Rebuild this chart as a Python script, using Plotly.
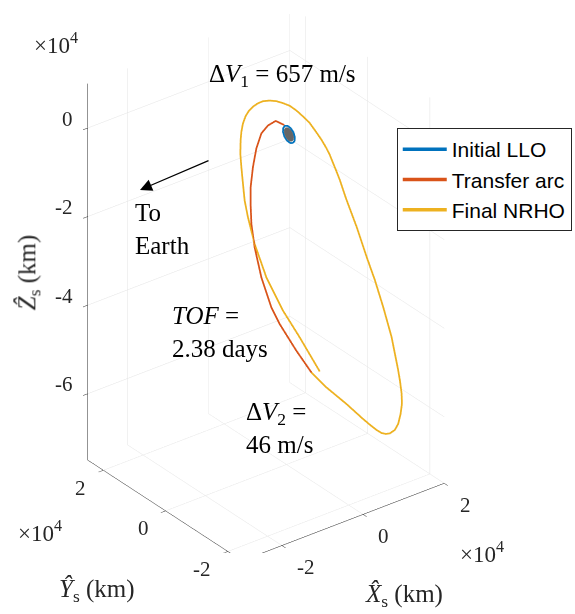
import plotly.graph_objects as go

# Trajectory samples in the selenocentric frame, units of 10^4 km
llo_x = [0.108, 0.137, 0.140, 0.117, 0.073, 0.020, -0.027, -0.056, -0.059, -0.036, 0.008, 0.061, 0.108]
llo_y = [-0.065, -0.082, -0.084, -0.070, -0.044, -0.012, 0.016, 0.034, 0.035, 0.021, -0.005, -0.037, -0.065]
llo_z = [-0.250, -0.202, -0.114, -0.008, 0.086, 0.144, 0.149, 0.101, 0.013, -0.093, -0.186, -0.245, -0.250]

# Outline of the Moon disc as seen inside the LLO
moon_x = [0.094, 0.118, 0.120, 0.102, 0.066, 0.024, -0.014, -0.037, -0.039, -0.021, 0.014, 0.057, 0.094]
moon_y = [-0.057, -0.070, -0.072, -0.061, -0.040, -0.014, 0.008, 0.022, 0.023, 0.012, -0.009, -0.034, -0.057]
moon_z = [-0.210, -0.172, -0.101, -0.016, 0.059, 0.105, 0.109, 0.071, 0.000, -0.084, -0.159, -0.206, -0.210]

arc_x = [-0.039, -0.183, -0.313, -0.424, -0.509, -0.566, -0.605, -0.605, -0.593, -0.538, -0.424,
         -0.255, -0.115, 0.167, 0.421]
arc_y = [0.023, 0.110, 0.188, 0.255, 0.305, 0.340, 0.363, 0.363, 0.356, 0.323, 0.255,
         0.153, 0.069, -0.100, -0.253]
arc_z = [0.170, 0.271, 0.178, 0.009, -0.325, -0.738, -1.189, -1.604, -2.020, -2.555, -3.243,
         -3.935, -4.321, -4.946, -5.456]

nrho_x = [0.421, 0.675, 1.013, 1.293, 1.407, 1.520, 1.604, 1.677, 1.745, 1.829, 1.885, 1.926,
          1.948, 1.943, 1.914, 1.885, 1.773, 1.631, 1.491, 1.351, 1.182, 1.013, 0.955, 0.899,
          0.844, 0.786, 0.730, 0.663, 0.590, 0.494, 0.392, 0.279, 0.167, 0.054, -0.059, -0.171,
          -0.284, -0.397, -0.482, -0.566, -0.634, -0.690, -0.735, -0.762, -0.774, -0.779, -0.762,
          -0.746, -0.724, -0.707, -0.651, -0.538, -0.340, -0.059, 0.223, 0.561]
nrho_y = [-0.253, -0.405, -0.608, -0.776, -0.844, -0.912, -0.963, -1.006, -1.047, -1.097, -1.131, -1.155,
          -1.169, -1.166, -1.148, -1.131, -1.064, -0.979, -0.895, -0.810, -0.709, -0.608, -0.573, -0.540,
          -0.506, -0.472, -0.438, -0.398, -0.354, -0.296, -0.235, -0.167, -0.100, -0.032, 0.035, 0.102,
          0.170, 0.238, 0.289, 0.340, 0.380, 0.414, 0.441, 0.457, 0.465, 0.468, 0.457,
          0.447, 0.434, 0.424, 0.391, 0.323, 0.204, 0.035, -0.134, -0.337]
nrho_z = [-5.456, -5.813, -6.213, -6.573, -6.710, -6.838, -6.912, -6.939, -6.931, -6.859, -6.727, -6.503,
          -6.278, -6.051, -5.747, -5.519, -4.756, -4.066, -3.450, -2.912, -2.220, -1.603, -1.372, -1.142,
          -0.950, -0.755, -0.563, -0.384, -0.213, -0.018, 0.179, 0.337, 0.480, 0.595, 0.664, 0.717,
          0.739, 0.733, 0.693, 0.622, 0.536, 0.420, 0.257, 0.069, -0.119, -0.420, -0.725,
          -0.953, -1.256, -1.484, -1.866, -2.478, -3.249, -4.023, -4.648, -5.443]

x_range = [-2.98, 2.0]
y_range = [-2.46, 2.5]
z_range = [-7.5, 1.0]
xy_ticks = [-2, 0, 2]
z_ticks = [-6, -4, -2, 0]

dv1_text = "Δ<i>V</i><sub>1</sub> = 657 m/s"
dv2_text = "Δ<i>V</i><sub>2</sub> =<br>46 m/s"
tof_text = "<i>TOF</i> =<br>2.38 days"
earth_text = "To<br>Earth"

blue, red, yellow = "#0072BD", "#D95319", "#EDB120"
ink = "#262626"
serif = "Liberation Serif"

fig = go.Figure()
fig.add_trace(go.Scatter3d(x=moon_x, y=moon_y, z=moon_z, mode="lines",
                           line=dict(color="#808080", width=1),
                           surfaceaxis=0, surfacecolor="#808080", showlegend=False,
                           hoverinfo="skip"))
fig.add_trace(go.Scatter3d(x=llo_x, y=llo_y, z=llo_z, mode="lines", name="Initial LLO",
                           line=dict(color=blue, width=3.5)))
fig.add_trace(go.Scatter3d(x=arc_x, y=arc_y, z=arc_z, mode="lines", name="Transfer arc",
                           line=dict(color=red, width=3.5)))
fig.add_trace(go.Scatter3d(x=nrho_x, y=nrho_y, z=nrho_z, mode="lines", name="Final NRHO",
                           line=dict(color=yellow, width=3.5)))


def axis(rng, ticks):
    return dict(range=rng, tickvals=ticks, showticklabels=False, title=dict(text=""),
                showgrid=True, gridcolor="#e3e3e3", gridwidth=1,
                showline=True, linecolor=ink, linewidth=1,
                ticks="outside", ticklen=6, tickcolor=ink,
                showbackground=False, zeroline=False, showspikes=False)


tick_font = dict(family=serif, size=21, color=ink)
exp_font = dict(family=serif, size=23, color=ink)
label_font = dict(family=serif, size=25, color=ink)
note_font = dict(family=serif, size=25, color="black")

ann = []
x0, x1 = x_range
y0, y1 = y_range
z0, z1 = z_range
for t in z_ticks:
    ann.append(dict(x=x0, y=y1, z=t, text=str(t), showarrow=False, font=tick_font,
                    xanchor="right", yanchor="middle", xshift=-13, yshift=9))
for t in xy_ticks:
    ann.append(dict(x=x0, y=t, z=z0, text=str(t), showarrow=False, font=tick_font,
                    xanchor="right", yanchor="middle", xshift=-15, yshift=-18))
    ann.append(dict(x=t, y=y0, z=z0, text=str(t), showarrow=False, font=tick_font,
                    xanchor="left", yanchor="middle", xshift=13, yshift=-22))
# shared exponent labels
ann.append(dict(x=x0, y=y1, z=z1, text="×10<sup>4</sup>", showarrow=False, font=exp_font,
                xanchor="center", yanchor="middle", xshift=-32, yshift=40))
ann.append(dict(x=x0, y=y1, z=z0, text="×10<sup>4</sup>", showarrow=False, font=exp_font,
                xanchor="center", yanchor="middle", xshift=-48, yshift=-72))
ann.append(dict(x=x1, y=y0, z=z0, text="×10<sup>4</sup>", showarrow=False, font=exp_font,
                xanchor="center", yanchor="middle", xshift=37, yshift=-70))
# axis titles
ann.append(dict(x=x0, y=y1, z=(z0 + z1) / 2, text="<i>Ẑ</i><sub>s</sub> (km)", showarrow=False,
                font=label_font, textangle=-90, xanchor="center", yanchor="middle",
                xshift=-59, yshift=-1))
ann.append(dict(x=x0, y=0, z=z0, text="<i>Ŷ</i><sub>s</sub> (km)", showarrow=False,
                font=label_font, xanchor="center", yanchor="middle", xshift=-69, yshift=-80))
ann.append(dict(x=0, y=y0, z=z0, text="<i>X̂</i><sub>s</sub> (km)", showarrow=False,
                font=label_font, xanchor="center", yanchor="middle", xshift=41, yshift=-81))
# manoeuvre notes tied to the transfer arc
ann.append(dict(x=arc_x[0], y=arc_y[0], z=arc_z[0], text=dv1_text, showarrow=False,
                font=note_font, xanchor="center", yanchor="middle", xshift=-2, yshift=49))
ann.append(dict(x=arc_x[-1], y=arc_y[-1], z=arc_z[-1], text=dv2_text, showarrow=False,
                font=note_font, align="left", xanchor="left", yanchor="middle",
                xshift=-68, yshift=-56))
ann.append(dict(x=arc_x[10], y=arc_y[10], z=arc_z[10], text=tof_text, showarrow=False,
                font=note_font, align="left", xanchor="left", yanchor="middle",
                xshift=-92, yshift=-55))

scale = 0.945
fig.update_layout(
    width=575, height=614, paper_bgcolor="white", plot_bgcolor="white",
    margin=dict(l=0, r=0, t=0, b=0, autoexpand=False),
    scene=dict(
        domain=dict(x=[0.0, 0.926], y=[0.10, 0.978]),
        xaxis=axis(x_range, xy_ticks),
        yaxis=axis(y_range, xy_ticks),
        zaxis=axis(z_range, z_ticks),
        aspectmode="manual",
        aspectratio=dict(x=1.0 * scale, y=0.996 * scale, z=1.707 * scale),
        camera=dict(projection=dict(type="orthographic"),
                    eye=dict(x=-0.527 * 1.905, y=-0.687 * 1.905, z=0.5 * 1.905),
                    up=dict(x=0, y=0, z=1), center=dict(x=0, y=0, z=0)),
        annotations=ann,
    ),
    annotations=[
        dict(x=133 / 575, y=1 - 228.5 / 614, xref="paper", yref="paper", text=earth_text,
             showarrow=False, align="left", xanchor="left", yanchor="middle", font=note_font),
        dict(x=140 / 575, y=1 - 190 / 614, xref="paper", yref="paper", text="",
             showarrow=True, ax=70, ay=-30, arrowhead=2, arrowsize=2, arrowwidth=1.2,
             arrowcolor="black"),
    ],
    legend=dict(x=0.690, y=1 - 128 / 614, xanchor="left", yanchor="top", itemwidth=44,
                bgcolor="white", bordercolor=ink, borderwidth=1,
                font=dict(family="Liberation Sans", size=21, color="black")),
)

fig.write_html("out.html", config=dict(displayModeBar=False))
